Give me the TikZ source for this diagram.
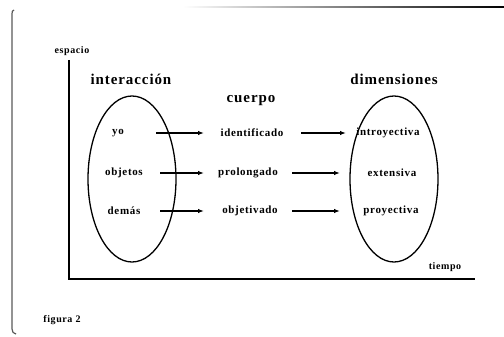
\documentclass[tikz,border=0pt]{standalone}
\usepackage{fontspec}
\setmainfont{Liberation Serif}[LetterSpace=6]
\usetikzlibrary{arrows.meta}
\begin{document}
\begin{tikzpicture}[x=1pt,y=-1pt,
  head/.style={font=\fontsize{15}{17}\selectfont\bfseries, inner sep=0pt},
  lbl/.style={font=\fontsize{11}{13}\selectfont\bfseries, inner sep=0pt},
  small/.style={font=\fontsize{10}{12}\selectfont\bfseries, inner sep=0pt},
  arr/.style={-{Latex[length=6pt,width=4.5pt]}, line width=1.2pt},
  ell/.style={line width=1.3pt},
  axis/.style={line width=1.5pt}]
\useasboundingbox (0,0) rectangle (504,337);
% frame
\draw[line width=1.2pt, black!65] (14,10) to[out=180,in=90] (12,14) -- (12,329) to[out=-90,in=180] (16,334);
\shade[left color=white, middle color=black!60, right color=black] (183,6.3) rectangle (504,7.7);
% axes
\coordinate (top) at (69,60);
\coordinate (orig) at (69,279);
\coordinate (right) at (475,279);
\draw[axis] (top) -- (orig) -- (right);
\node[small] (esp) at (72,51) {espacio};
\node[small] (tie) at (445,267) {tiempo};
\node[small] (fig) at (62,320) {figura 2};
% headings
\node[head] (inter) at (131,79) {interacción};
\node[head] (dim) at (394,79) {dimensiones};
\node[head] (cue) at (251,101) {cuerpo};
% ellipses
\draw[ell] (132,179) ellipse [x radius=44, y radius=83];
\draw[ell] (394,179) ellipse [x radius=44, y radius=83];
% row labels
\node[lbl] (yo) at (118,133) {yo};
\node[lbl] (obj) at (124,173) {objetos};
\node[lbl] (dem) at (124,211) {demás};
\node[lbl] (ide) at (252,133) {identificado};
\node[lbl] (pro) at (248,173) {prolongado};
\node[lbl] (objv) at (250,211) {objetivado};
\node[lbl] (intr) at (388,133) {introyectiva};
\node[lbl] (ext) at (392,173) {extensiva};
\node[lbl] (proy) at (391,211) {proyectiva};
% arrows
\draw[arr] ([xshift=38pt]yo.center) -- ([xshift=-48pt]ide.center);
\draw[arr] ([xshift=36pt]obj.center) -- ([xshift=-44pt]pro.center);
\draw[arr, line width=2pt] ([xshift=36pt]dem.center) -- ([xshift=-46pt]objv.center);
\draw[arr] ([xshift=49pt]ide.center) -- ([xshift=-42pt]intr.center);
\draw[arr] ([xshift=44pt]pro.center) -- ([xshift=-52pt]ext.center);
\draw[arr] ([xshift=42pt]objv.center) -- ([xshift=-51pt]proy.center);
\end{tikzpicture}
\end{document}
